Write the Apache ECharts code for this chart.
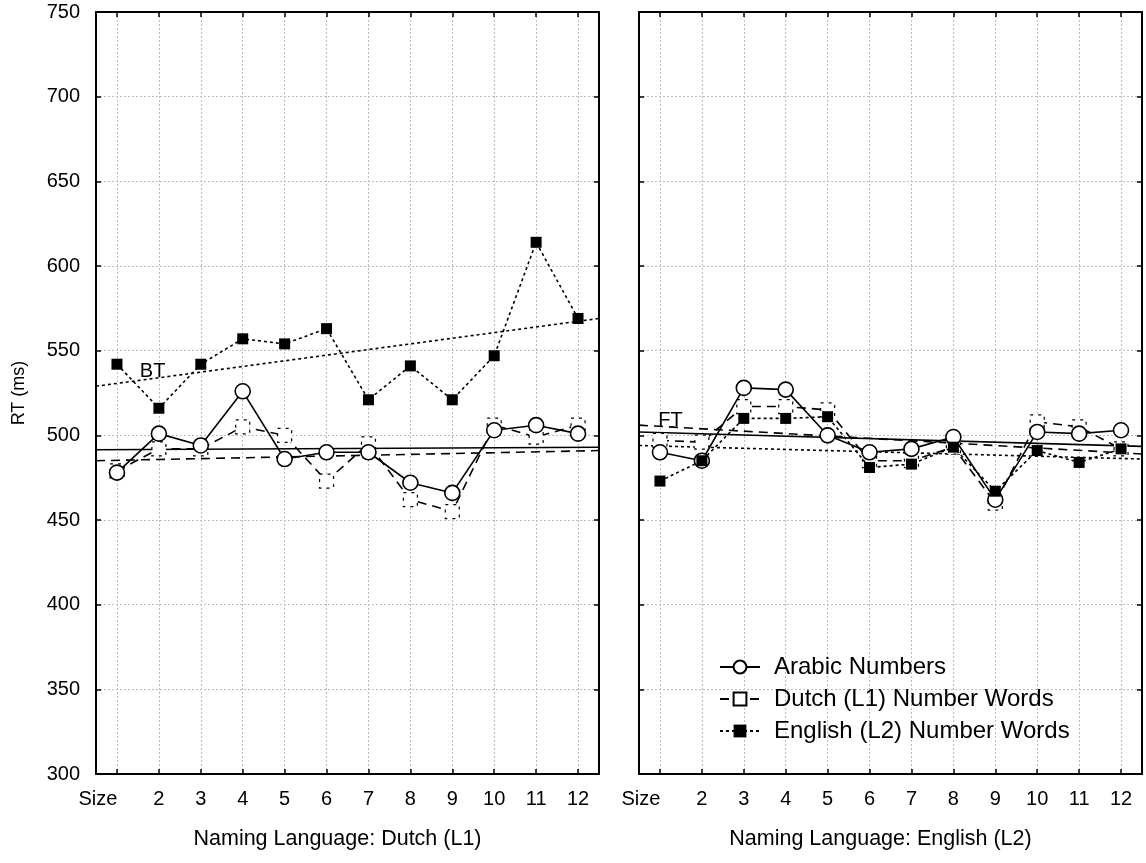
<!DOCTYPE html>
<html><head><meta charset="utf-8">
<script src="https://cdn.jsdelivr.net/npm/echarts@6/dist/echarts.min.js"></script>
<style>html,body{margin:0;padding:0;background:#fff}#c{width:1146px;height:863px}</style>
</head><body><div id="c"></div>
<script>
// ---- data ----
const categories = ['Size','2','3','4','5','6','7','8','9','10','11','12'];
const seriesNames = ['Arabic Numbers','Dutch (L1) Number Words','English (L2) Number Words'];
const panelTitles = ['Naming Language: Dutch (L1)','Naming Language: English (L2)'];
const yMin = 300, yMax = 750, yStep = 50;

// Naming language Dutch (L1)
const arabicL1  = [478, 501, 494, 526, 486, 490, 490, 472, 466, 503, 506, 501];
const dutchL1   = [479, 492, 492, 505, 500, 473, 495, 462, 455, 506, 499, 506];
const englishL1 = [542, 516, 542, 557, 554, 563, 521, 541, 521, 547, 614, 569];
// Naming language English (L2)
const arabicL2  = [490, 485, 528, 527, 500, 490, 492, 499, 462, 502, 501, 503];
const dutchL2   = [497, 496, 517, 517, 515, 485, 485, 493, 460, 508, 505, 492];
const englishL2 = [473, 485, 510, 510, 511, 481, 483, 493, 467, 491, 484, 492];

// linear fit lines: value at left edge and right edge of each panel
const fitX = [0.5, 12.5];
const arabicFitL1  = [491.5, 493];
const dutchFitL1   = [485, 491];
const englishFitL1 = [529, 569];
const arabicFitL2  = [502, 493.5];
const dutchFitL2   = [506, 489];
const englishFitL2 = [494, 486];

// fit labels
const fitLabelL1 = {text: 'BT', x: 1.85, y: 538};
const fitLabelL2 = {text: 'FT', x: 1.25, y: 509};

// ---- chart ----
const FONT = '"Liberation Sans", Arial, sans-serif';
const BLACK = '#000';
const chart = echarts.init(document.getElementById('c'));

const grids = [
  {left: 96, top: 12, width: 503, height: 762},
  {left: 639, top: 12, width: 503, height: 762}
];

function bottomX(gi, title) {
  return {
    type: 'category', gridIndex: gi, data: categories, boundaryGap: true, position: 'bottom',
    name: title, nameLocation: 'middle', nameGap: 54,
    nameTextStyle: {fontFamily: FONT, fontSize: 21.5, color: BLACK, padding: [0, 20, 0, 0]},
    axisLine: {show: true, lineStyle: {color: BLACK, width: 2}},
    axisTick: {show: true, inside: true, alignWithLabel: true, length: 5, lineStyle: {color: BLACK, width: 1.5}},
    axisLabel: {
      show: true, interval: 0, margin: 15, fontFamily: FONT, fontSize: 20, color: BLACK,
      formatter: v => v === categories[0] ? '{s|' + v + '}' : v,
      rich: {s: {fontFamily: FONT, fontSize: 20, color: BLACK, padding: [0, 38, 0, 0]}}
    },
    splitLine: {show: true, alignWithLabel: true, interval: 0, lineStyle: {color: '#bdbdbd', type: [2, 2], width: 1}}
  };
}
function topX(gi) {
  return {
    type: 'category', gridIndex: gi, data: categories, boundaryGap: true, position: 'top',
    axisLine: {show: true, lineStyle: {color: BLACK, width: 2}},
    axisTick: {show: true, inside: true, alignWithLabel: true, length: 5, lineStyle: {color: BLACK, width: 1.5}},
    axisLabel: {show: false}, splitLine: {show: false}
  };
}
function fitXAxis(gi) {
  return {type: 'value', gridIndex: gi, min: fitX[0], max: fitX[1], show: false, splitLine: {show: false}};
}
function yAx(gi, pos, labels, grid, name) {
  return {
    type: 'value', gridIndex: gi, position: pos, min: yMin, max: yMax, interval: yStep,
    name: name || '', nameLocation: 'middle', nameGap: 68, nameRotate: 90,
    nameTextStyle: {fontFamily: FONT, fontSize: 18, color: BLACK},
    axisLine: {show: true, lineStyle: {color: BLACK, width: 2}},
    axisTick: {show: true, inside: true, length: 5, lineStyle: {color: BLACK, width: 1.5}},
    axisLabel: {show: labels, margin: 16, fontFamily: FONT, fontSize: 20, color: BLACK},
    splitLine: {show: grid, lineStyle: {color: '#bdbdbd', type: [2, 2], width: 1}}
  };
}

const styles = {
  arabic: {
    line: {color: BLACK, width: 1.6, type: 'solid'},
    symbol: 'circle', size: 15,
    item: {color: '#fff', borderColor: BLACK, borderWidth: 1.6}
  },
  dutch: {
    line: {color: BLACK, width: 1.6, type: [9, 6]},
    symbol: 'rect', size: 14,
    item: {color: '#fff', borderColor: BLACK, borderWidth: 1.2, borderType: [3, 5]}
  },
  english: {
    line: {color: BLACK, width: 1.6, type: [3, 3]},
    symbol: 'rect', size: 11,
    item: {color: BLACK, borderColor: BLACK, borderWidth: 0}
  }
};

function dataSeries(name, st, xi, yi, values, z) {
  return {
    type: 'line', name: name, xAxisIndex: xi, yAxisIndex: yi,
    data: values, symbol: st.symbol, symbolSize: st.size, showSymbol: true,
    lineStyle: st.line, itemStyle: st.item, z: z, silent: true
  };
}
function fitSeries(st, xi, yi, ends, label) {
  const s = {
    type: 'line', name: 'fit', xAxisIndex: xi, yAxisIndex: yi,
    data: [[fitX[0], ends[0]], [fitX[1], ends[1]]],
    symbol: 'none', lineStyle: Object.assign({}, st.line, {width: 1.6}), z: 1, silent: true
  };
  if (label) {
    s.markPoint = {
      symbol: 'circle', symbolSize: 1, itemStyle: {color: 'rgba(0,0,0,0)'},
      label: {show: true, position: 'inside', formatter: label.text, fontFamily: FONT, fontSize: 20, color: BLACK},
      data: [{coord: [label.x, label.y]}]
    };
  }
  return s;
}

const option = {
  animation: false,
  backgroundColor: '#fff',
  grid: grids,
  xAxis: [bottomX(0, panelTitles[0]), topX(0), fitXAxis(0), bottomX(1, panelTitles[1]), topX(1), fitXAxis(1)],
  yAxis: [yAx(0, 'left', true, true, 'RT (ms)'), yAx(0, 'right', false, false), yAx(1, 'left', false, true), yAx(1, 'right', false, false)],
  legend: {
    data: seriesNames, orient: 'vertical', left: 714, top: 650,
    itemWidth: 40, itemHeight: 16, itemGap: 8, selectedMode: false,
    formatter: n => '{t|' + n + '}',
    textStyle: {
      fontFamily: FONT, fontSize: 24, color: BLACK, lineHeight: 24,
      rich: {t: {fontFamily: FONT, fontSize: 24, color: BLACK, lineHeight: 24, padding: [0, 0, 0, 9]}}
    }
  },
  series: [
    fitSeries(styles.arabic, 2, 0, arabicFitL1),
    fitSeries(styles.dutch, 2, 0, dutchFitL1),
    fitSeries(styles.english, 2, 0, englishFitL1, fitLabelL1),
    dataSeries(seriesNames[1], styles.dutch, 0, 0, dutchL1, 3),
    dataSeries(seriesNames[0], styles.arabic, 0, 0, arabicL1, 4),
    dataSeries(seriesNames[2], styles.english, 0, 0, englishL1, 5),
    fitSeries(styles.arabic, 5, 2, arabicFitL2),
    fitSeries(styles.dutch, 5, 2, dutchFitL2),
    fitSeries(styles.english, 5, 2, englishFitL2, fitLabelL2),
    dataSeries(seriesNames[1], styles.dutch, 3, 2, dutchL2, 3),
    dataSeries(seriesNames[0], styles.arabic, 3, 2, arabicL2, 4),
    dataSeries(seriesNames[2], styles.english, 3, 2, englishL2, 5)
  ]
};
chart.setOption(option);
</script>
</body></html>
